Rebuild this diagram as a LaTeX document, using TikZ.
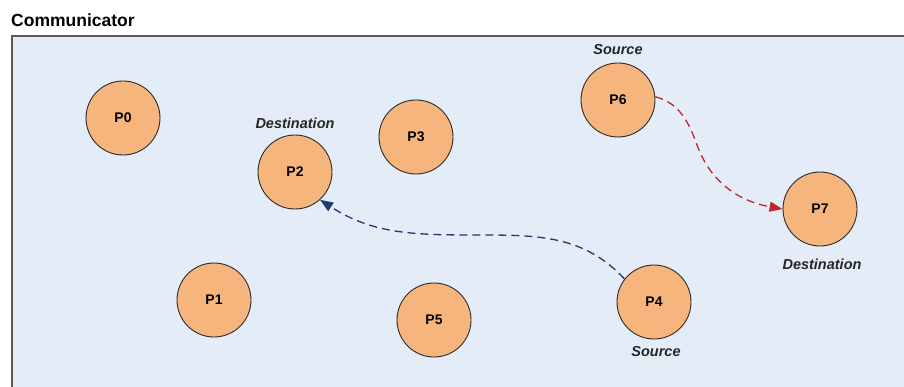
\documentclass[tikz,border=0pt]{standalone}
\usepackage{fontspec}
\setmainfont{Liberation Sans}
\usetikzlibrary{arrows.meta}
\definecolor{panelbg}{HTML}{E4ECF7}
\definecolor{panelline}{HTML}{5A5A5A}
\definecolor{procfill}{HTML}{F7B57E}
\definecolor{procline}{HTML}{2A2A2A}
\definecolor{msgblue}{HTML}{1F3B73}
\definecolor{msgred}{HTML}{C0262D}
\tikzset{
  proc/.style={circle, minimum size=74pt, inner sep=0pt, fill=procfill,
    draw=procline, line width=0.9pt,
    font=\fontsize{14}{16}\selectfont\bfseries},
  role/.style={font=\fontsize{14.5}{16}\selectfont\bfseries\itshape, text=black!85},
  msg/.style={dash pattern=on 8pt off 5pt, line width=1.3pt,
    -{Triangle[length=13pt,width=10pt]}},
}
\begin{document}
\begin{tikzpicture}[x=1pt,y=1pt]
  \useasboundingbox (0,0) rectangle (904,386);
  % communicator panel
  \fill[panelbg] (12,-10) rectangle (914,350);
  \draw[panelline, line width=1.6pt] (12,-10) -- (12,350) -- (914,350);
  \node[anchor=west, font=\fontsize{17.5}{20}\selectfont\bfseries, inner sep=0pt] (title) at (11,366) {Communicator};
  % processes
  \node[proc] (P0) at (123,268) {P0};
  \node[proc] (P1) at (214,86) {P1};
  \node[proc] (P2) at (295,214) {P2};
  \node[proc] (P3) at (416,249) {P3};
  \node[proc] (P4) at (654,84) {P4};
  \node[proc] (P5) at (434,66) {P5};
  \node[proc] (P6) at (618,286) {P6};
  \node[proc] (P7) at (820,177) {P7};
  % role labels
  \node[role] (dst2) at (295,263) {Destination};
  \node[role] (src6) at (618,336) {Source};
  \node[role] (dst7) at (822,122) {Destination};
  \node[role] (src4) at (656,34) {Source};
  % messages
  \coordinate (bmid) at (480,151);
  \coordinate (rmid) at (697,241);
  \draw[msg, msgblue] (P4.142) to[out=133,in=0] (bmid) to[out=180,in=-33] (P2.-48);
  \draw[msg, msgred] (P6.5) to[out=-15,in=110] (rmid) to[out=-70,in=170] (P7.west);
\end{tikzpicture}
\end{document}
